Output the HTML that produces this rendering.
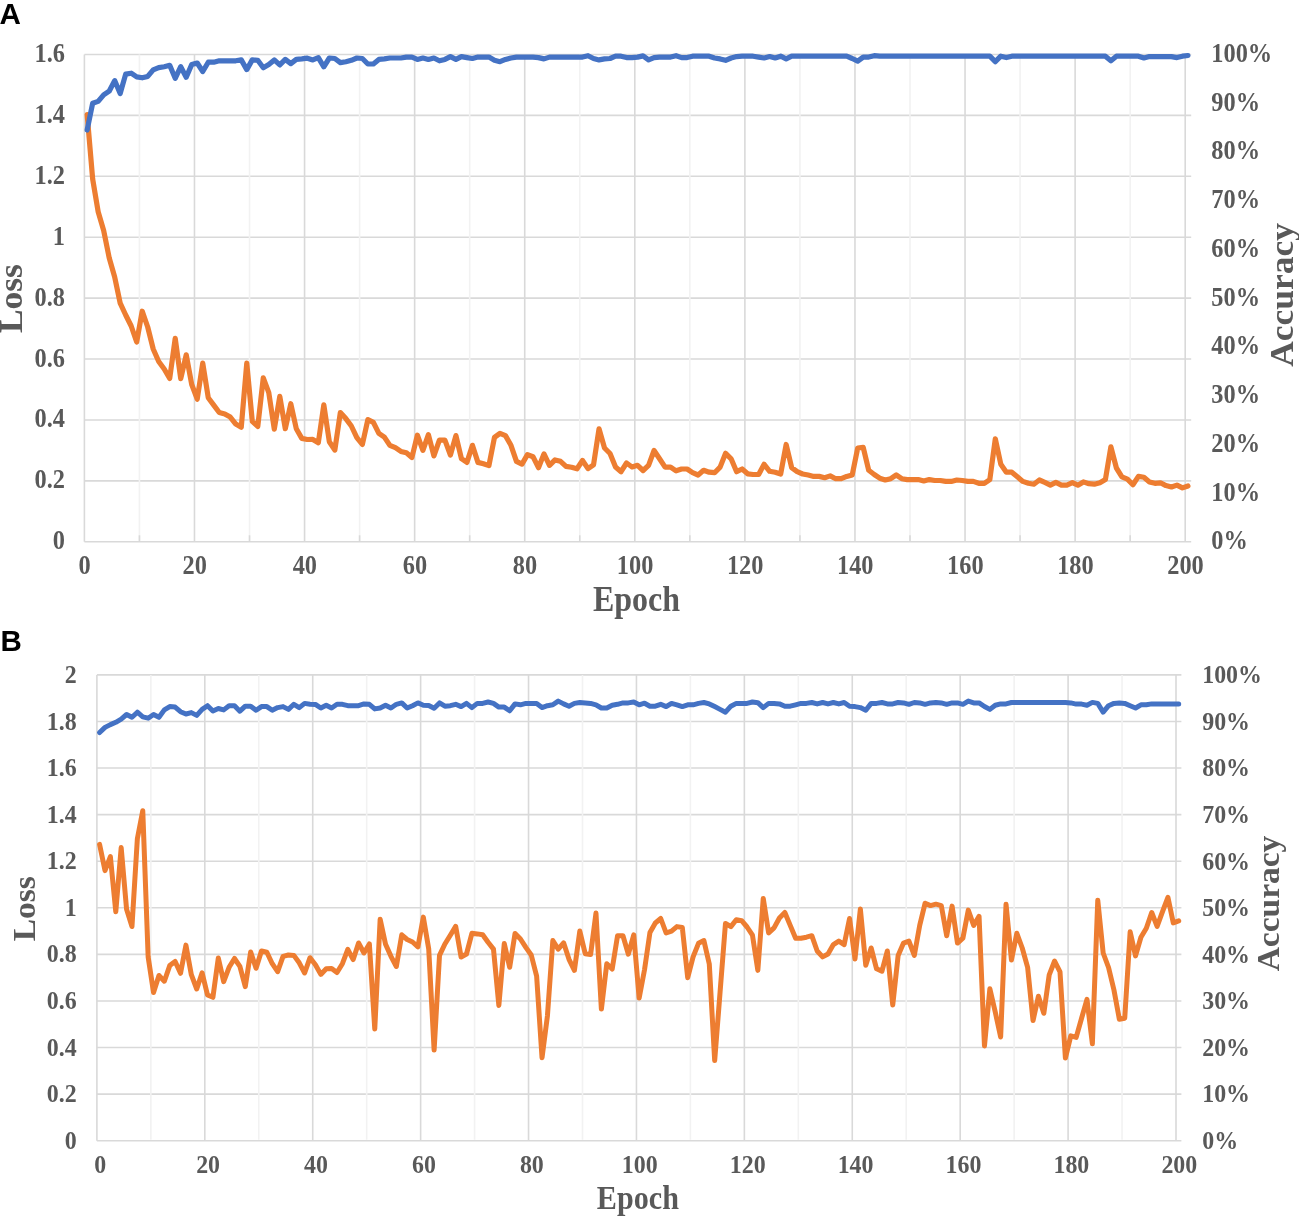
<!DOCTYPE html>
<html><head><meta charset="utf-8"><title>Training curves</title>
<style>
html,body{margin:0;padding:0;background:#fff;}
body{width:1299px;height:1217px;overflow:hidden;position:relative;}
svg{position:absolute;left:0;top:0;display:block;filter:blur(0.3px);}
.t{font-family:"Liberation Serif",serif;font-weight:bold;fill:#595959;}
.p{font-family:"Liberation Sans",sans-serif;font-weight:bold;fill:#000;}
</style></head>
<body>
<svg width="1299" height="1217" viewBox="0 0 1299 1217">
<rect width="1299" height="1217" fill="#fff"/>
<text transform="translate(-0.6,24.1) scale(1,1)" class="p" font-size="29.6">A</text>
<text transform="translate(0.6,651) scale(1.0,1)" class="p" font-size="29.5">B</text>
<line x1="84.40" y1="54.50" x2="1191.20" y2="54.50" stroke="#d9d9d9" stroke-width="1.6"/>
<line x1="84.40" y1="115.41" x2="1191.20" y2="115.41" stroke="#d9d9d9" stroke-width="1.6"/>
<line x1="84.40" y1="176.32" x2="1191.20" y2="176.32" stroke="#d9d9d9" stroke-width="1.6"/>
<line x1="84.40" y1="237.24" x2="1191.20" y2="237.24" stroke="#d9d9d9" stroke-width="1.6"/>
<line x1="84.40" y1="298.15" x2="1191.20" y2="298.15" stroke="#d9d9d9" stroke-width="1.6"/>
<line x1="84.40" y1="359.06" x2="1191.20" y2="359.06" stroke="#d9d9d9" stroke-width="1.6"/>
<line x1="84.40" y1="419.97" x2="1191.20" y2="419.97" stroke="#d9d9d9" stroke-width="1.6"/>
<line x1="84.40" y1="480.89" x2="1191.20" y2="480.89" stroke="#d9d9d9" stroke-width="1.6"/>
<line x1="84.40" y1="541.80" x2="1191.20" y2="541.80" stroke="#d9d9d9" stroke-width="1.6"/>
<line x1="84.40" y1="54.50" x2="84.40" y2="541.80" stroke="#d9d9d9" stroke-width="1.6"/>
<line x1="194.48" y1="54.50" x2="194.48" y2="541.80" stroke="#d9d9d9" stroke-width="1.6"/>
<line x1="304.56" y1="54.50" x2="304.56" y2="541.80" stroke="#d9d9d9" stroke-width="1.6"/>
<line x1="414.64" y1="54.50" x2="414.64" y2="541.80" stroke="#d9d9d9" stroke-width="1.6"/>
<line x1="524.72" y1="54.50" x2="524.72" y2="541.80" stroke="#d9d9d9" stroke-width="1.6"/>
<line x1="634.80" y1="54.50" x2="634.80" y2="541.80" stroke="#d9d9d9" stroke-width="1.6"/>
<line x1="744.88" y1="54.50" x2="744.88" y2="541.80" stroke="#d9d9d9" stroke-width="1.6"/>
<line x1="854.96" y1="54.50" x2="854.96" y2="541.80" stroke="#d9d9d9" stroke-width="1.6"/>
<line x1="965.04" y1="54.50" x2="965.04" y2="541.80" stroke="#d9d9d9" stroke-width="1.6"/>
<line x1="1075.12" y1="54.50" x2="1075.12" y2="541.80" stroke="#d9d9d9" stroke-width="1.6"/>
<line x1="1185.20" y1="54.50" x2="1185.20" y2="541.80" stroke="#d9d9d9" stroke-width="1.6"/>
<line x1="139.44" y1="54.50" x2="139.44" y2="540.80" stroke="#f2f2f2" stroke-width="1.6"/>
<line x1="139.44" y1="535.30" x2="139.44" y2="541.80" stroke="#d9d9d9" stroke-width="1.6"/>
<line x1="249.52" y1="54.50" x2="249.52" y2="540.80" stroke="#f2f2f2" stroke-width="1.6"/>
<line x1="249.52" y1="535.30" x2="249.52" y2="541.80" stroke="#d9d9d9" stroke-width="1.6"/>
<line x1="359.60" y1="54.50" x2="359.60" y2="540.80" stroke="#f2f2f2" stroke-width="1.6"/>
<line x1="359.60" y1="535.30" x2="359.60" y2="541.80" stroke="#d9d9d9" stroke-width="1.6"/>
<line x1="469.68" y1="54.50" x2="469.68" y2="540.80" stroke="#f2f2f2" stroke-width="1.6"/>
<line x1="469.68" y1="535.30" x2="469.68" y2="541.80" stroke="#d9d9d9" stroke-width="1.6"/>
<line x1="579.76" y1="54.50" x2="579.76" y2="540.80" stroke="#f2f2f2" stroke-width="1.6"/>
<line x1="579.76" y1="535.30" x2="579.76" y2="541.80" stroke="#d9d9d9" stroke-width="1.6"/>
<line x1="689.84" y1="54.50" x2="689.84" y2="540.80" stroke="#f2f2f2" stroke-width="1.6"/>
<line x1="689.84" y1="535.30" x2="689.84" y2="541.80" stroke="#d9d9d9" stroke-width="1.6"/>
<line x1="799.92" y1="54.50" x2="799.92" y2="540.80" stroke="#f2f2f2" stroke-width="1.6"/>
<line x1="799.92" y1="535.30" x2="799.92" y2="541.80" stroke="#d9d9d9" stroke-width="1.6"/>
<line x1="910.00" y1="54.50" x2="910.00" y2="540.80" stroke="#f2f2f2" stroke-width="1.6"/>
<line x1="910.00" y1="535.30" x2="910.00" y2="541.80" stroke="#d9d9d9" stroke-width="1.6"/>
<line x1="1020.08" y1="54.50" x2="1020.08" y2="540.80" stroke="#f2f2f2" stroke-width="1.6"/>
<line x1="1020.08" y1="535.30" x2="1020.08" y2="541.80" stroke="#d9d9d9" stroke-width="1.6"/>
<line x1="1130.16" y1="54.50" x2="1130.16" y2="540.80" stroke="#f2f2f2" stroke-width="1.6"/>
<line x1="1130.16" y1="535.30" x2="1130.16" y2="541.80" stroke="#d9d9d9" stroke-width="1.6"/>
<polyline points="87.15,114.50 92.66,179.00 98.16,211.70 103.66,230.50 109.17,257.70 114.67,277.00 120.18,303.10 125.68,315.00 131.18,326.00 136.69,342.00 142.19,311.20 147.70,327.00 153.20,349.00 158.70,361.50 164.21,369.00 169.71,378.50 175.22,338.30 180.72,378.60 186.22,354.80 191.73,384.50 197.23,399.20 202.74,363.10 208.24,397.70 213.74,405.10 219.25,412.50 224.75,413.90 230.26,417.10 235.76,424.10 241.26,427.30 246.77,363.10 252.27,421.30 257.78,426.40 263.28,377.90 268.78,392.70 274.29,429.10 279.79,396.40 285.30,428.70 290.80,403.70 296.30,428.70 301.81,438.40 307.31,439.50 312.82,439.40 318.32,442.70 323.82,404.80 329.33,441.70 334.83,450.00 340.34,412.60 345.84,418.60 351.34,426.00 356.85,437.60 362.35,444.50 367.86,419.60 373.36,422.30 378.86,433.40 384.37,437.10 389.87,445.40 395.38,447.70 400.88,451.40 406.38,452.80 411.89,457.50 417.39,435.20 422.90,450.30 428.40,434.60 433.90,455.90 439.41,440.20 444.91,440.20 450.42,455.00 455.92,435.60 461.42,458.70 466.93,462.40 472.43,445.30 477.94,462.40 483.44,463.70 488.94,465.60 494.45,437.40 499.95,433.30 505.46,435.60 510.96,445.30 516.46,461.40 521.97,464.10 527.47,454.60 532.98,456.70 538.48,467.70 543.98,453.90 549.49,465.40 554.99,459.90 560.50,461.30 566.00,466.40 571.50,467.30 577.01,468.80 582.51,460.50 588.02,468.60 593.52,464.90 599.02,428.80 604.53,448.00 610.03,453.50 615.54,467.00 621.04,471.70 626.54,463.00 632.05,467.00 637.55,465.30 643.06,470.50 648.56,465.30 654.06,450.50 659.57,458.80 665.07,467.10 670.58,467.10 676.08,470.80 681.58,469.00 687.09,469.00 692.59,472.70 698.10,475.00 703.60,470.30 709.10,472.20 714.61,472.70 720.11,467.10 725.62,453.30 731.12,458.80 736.62,471.70 742.13,469.00 747.63,473.80 753.14,474.50 758.64,474.50 764.14,464.30 769.65,471.30 775.15,472.20 780.66,474.00 786.16,444.50 791.66,467.60 797.17,471.70 802.67,474.00 808.18,475.00 813.68,476.40 819.18,476.40 824.69,477.70 830.19,475.90 835.70,478.70 841.20,478.70 846.70,476.40 852.21,475.00 857.71,448.00 863.22,447.30 868.72,470.30 874.22,474.50 879.73,478.20 885.23,480.00 890.74,478.70 896.24,475.00 901.74,478.70 907.25,479.60 912.75,479.60 918.26,479.60 923.76,481.00 929.26,479.60 934.77,480.50 940.27,480.50 945.78,481.40 951.28,481.40 956.78,480.00 962.29,480.50 967.79,481.40 973.30,481.40 978.80,483.30 984.30,483.30 989.81,479.60 995.31,438.90 1000.82,464.30 1006.32,472.20 1011.82,472.20 1017.33,476.80 1022.83,481.40 1028.34,483.30 1033.84,484.20 1039.34,480.00 1044.85,482.40 1050.35,485.10 1055.86,482.40 1061.36,485.10 1066.86,485.10 1072.37,482.60 1077.87,485.20 1083.38,481.90 1088.88,483.70 1094.38,484.20 1099.89,482.80 1105.39,479.60 1110.90,446.80 1116.40,468.00 1121.90,476.80 1127.41,479.10 1132.91,484.70 1138.42,476.40 1143.92,477.30 1149.42,481.90 1154.93,483.30 1160.43,482.80 1165.94,485.60 1171.44,487.00 1176.94,485.10 1182.45,487.90 1187.95,486.00" fill="none" stroke="#ed7d31" stroke-width="5.2" stroke-linejoin="round" stroke-linecap="round"/>
<polyline points="87.15,130.00 92.66,103.20 98.16,101.40 103.66,94.90 109.17,91.20 114.67,80.60 120.18,93.50 125.68,74.10 131.18,73.20 136.69,76.90 142.19,77.80 147.70,76.40 153.20,69.90 158.70,67.60 164.21,66.70 169.71,65.30 175.22,78.30 180.72,66.70 186.22,77.30 191.73,64.40 197.23,63.00 202.74,71.50 208.24,62.20 213.74,62.20 219.25,60.80 224.75,60.80 230.26,60.80 235.76,60.80 241.26,59.90 246.77,69.60 252.27,59.90 257.78,60.30 263.28,67.70 268.78,64.50 274.29,59.90 279.79,64.90 285.30,59.40 290.80,63.60 296.30,59.40 301.81,58.90 307.31,58.20 312.82,59.90 318.32,57.60 323.82,66.80 329.33,58.00 334.83,58.50 340.34,62.60 345.84,61.70 351.34,60.30 356.85,58.00 362.35,58.50 367.86,64.00 373.36,64.00 378.86,59.40 384.37,58.90 389.87,58.00 395.38,58.00 400.88,58.00 406.38,57.10 411.89,57.10 417.39,59.40 422.90,58.00 428.40,59.40 433.90,58.00 439.41,60.80 444.91,59.40 450.42,56.60 455.92,59.40 461.42,56.60 466.93,57.60 472.43,58.50 477.94,57.10 483.44,57.10 488.94,57.10 494.45,60.30 499.95,61.70 505.46,59.40 510.96,58.00 516.46,57.10 521.97,57.10 527.47,57.10 532.98,57.10 538.48,57.60 543.98,58.90 549.49,57.10 554.99,57.10 560.50,57.10 566.00,57.10 571.50,57.10 577.01,57.10 582.51,57.10 588.02,55.70 593.52,58.50 599.02,59.90 604.53,58.90 610.03,58.50 615.54,56.20 621.04,56.20 626.54,57.60 632.05,57.60 637.55,57.10 643.06,55.90 648.56,59.90 654.06,57.60 659.57,57.10 665.07,57.10 670.58,57.10 676.08,55.70 681.58,57.60 687.09,57.60 692.59,56.20 698.10,56.20 703.60,56.20 709.10,56.20 714.61,58.00 720.11,58.90 725.62,60.30 731.12,58.00 736.62,56.60 742.13,56.20 747.63,56.20 753.14,56.20 758.64,57.10 764.14,58.00 769.65,56.60 775.15,58.00 780.66,56.20 786.16,58.90 791.66,56.20 797.17,56.20 802.67,56.20 808.18,56.20 813.68,56.20 819.18,56.20 824.69,56.20 830.19,56.20 835.70,56.20 841.20,56.20 846.70,56.20 852.21,58.50 857.71,61.20 863.22,57.10 868.72,57.10 874.22,55.70 879.73,56.20 885.23,56.20 890.74,56.20 896.24,56.20 901.74,56.20 907.25,56.20 912.75,56.20 918.26,56.20 923.76,56.20 929.26,56.20 934.77,56.20 940.27,56.20 945.78,56.20 951.28,56.20 956.78,56.20 962.29,56.20 967.79,56.20 973.30,56.20 978.80,56.20 984.30,56.20 989.81,56.20 995.31,61.70 1000.82,56.20 1006.32,57.60 1011.82,56.20 1017.33,56.20 1022.83,56.20 1028.34,56.20 1033.84,56.20 1039.34,56.20 1044.85,56.20 1050.35,56.20 1055.86,56.20 1061.36,56.20 1066.86,56.20 1072.37,56.20 1077.87,56.20 1083.38,56.20 1088.88,56.20 1094.38,56.20 1099.89,56.20 1105.39,56.20 1110.90,60.80 1116.40,56.20 1121.90,56.20 1127.41,56.20 1132.91,56.20 1138.42,56.20 1143.92,58.00 1149.42,56.60 1154.93,56.60 1160.43,56.60 1165.94,56.60 1171.44,56.60 1176.94,57.60 1182.45,56.20 1187.95,55.50" fill="none" stroke="#4472c4" stroke-width="5.2" stroke-linejoin="round" stroke-linecap="round"/>
<text transform="translate(65.00,61.98) scale(0.92,1)" text-anchor="end" class="t" font-size="26.5">1.6</text>
<text transform="translate(65.00,122.89) scale(0.92,1)" text-anchor="end" class="t" font-size="26.5">1.4</text>
<text transform="translate(65.00,183.80) scale(0.92,1)" text-anchor="end" class="t" font-size="26.5">1.2</text>
<text transform="translate(65.00,244.72) scale(0.92,1)" text-anchor="end" class="t" font-size="26.5">1</text>
<text transform="translate(65.00,305.63) scale(0.92,1)" text-anchor="end" class="t" font-size="26.5">0.8</text>
<text transform="translate(65.00,366.54) scale(0.92,1)" text-anchor="end" class="t" font-size="26.5">0.6</text>
<text transform="translate(65.00,427.45) scale(0.92,1)" text-anchor="end" class="t" font-size="26.5">0.4</text>
<text transform="translate(65.00,488.37) scale(0.92,1)" text-anchor="end" class="t" font-size="26.5">0.2</text>
<text transform="translate(65.00,549.28) scale(0.92,1)" text-anchor="end" class="t" font-size="26.5">0</text>
<text transform="translate(1211.30,61.98) scale(0.92,1)" class="t" font-size="26.5">100%</text>
<text transform="translate(1211.30,110.71) scale(0.92,1)" class="t" font-size="26.5">90%</text>
<text transform="translate(1211.30,159.44) scale(0.92,1)" class="t" font-size="26.5">80%</text>
<text transform="translate(1211.30,208.17) scale(0.92,1)" class="t" font-size="26.5">70%</text>
<text transform="translate(1211.30,256.90) scale(0.92,1)" class="t" font-size="26.5">60%</text>
<text transform="translate(1211.30,305.63) scale(0.92,1)" class="t" font-size="26.5">50%</text>
<text transform="translate(1211.30,354.36) scale(0.92,1)" class="t" font-size="26.5">40%</text>
<text transform="translate(1211.30,403.09) scale(0.92,1)" class="t" font-size="26.5">30%</text>
<text transform="translate(1211.30,451.82) scale(0.92,1)" class="t" font-size="26.5">20%</text>
<text transform="translate(1211.30,500.55) scale(0.92,1)" class="t" font-size="26.5">10%</text>
<text transform="translate(1211.30,549.28) scale(0.92,1)" class="t" font-size="26.5">0%</text>
<text transform="translate(84.70,573.70) scale(0.92,1)" text-anchor="middle" class="t" font-size="26.5">0</text>
<text transform="translate(194.78,573.70) scale(0.92,1)" text-anchor="middle" class="t" font-size="26.5">20</text>
<text transform="translate(304.86,573.70) scale(0.92,1)" text-anchor="middle" class="t" font-size="26.5">40</text>
<text transform="translate(414.94,573.70) scale(0.92,1)" text-anchor="middle" class="t" font-size="26.5">60</text>
<text transform="translate(525.02,573.70) scale(0.92,1)" text-anchor="middle" class="t" font-size="26.5">80</text>
<text transform="translate(635.10,573.70) scale(0.92,1)" text-anchor="middle" class="t" font-size="26.5">100</text>
<text transform="translate(745.18,573.70) scale(0.92,1)" text-anchor="middle" class="t" font-size="26.5">120</text>
<text transform="translate(855.26,573.70) scale(0.92,1)" text-anchor="middle" class="t" font-size="26.5">140</text>
<text transform="translate(965.34,573.70) scale(0.92,1)" text-anchor="middle" class="t" font-size="26.5">160</text>
<text transform="translate(1075.42,573.70) scale(0.92,1)" text-anchor="middle" class="t" font-size="26.5">180</text>
<text transform="translate(1185.50,573.70) scale(0.92,1)" text-anchor="middle" class="t" font-size="26.5">200</text>
<text transform="translate(636.40,611.20) scale(0.9,1)" text-anchor="middle" class="t" font-size="35.5">Epoch</text>
<text transform="translate(21.60,298.60) scale(0.93,1) rotate(-90)" text-anchor="middle" class="t" font-size="35.5">Loss</text>
<text transform="translate(1292.50,294.90) scale(0.93,1) rotate(-90)" text-anchor="middle" class="t" font-size="35.5">Accuracy</text>
<line x1="96.90" y1="674.90" x2="1181.40" y2="674.90" stroke="#d9d9d9" stroke-width="1.6"/>
<line x1="96.90" y1="721.48" x2="1181.40" y2="721.48" stroke="#d9d9d9" stroke-width="1.6"/>
<line x1="96.90" y1="768.06" x2="1181.40" y2="768.06" stroke="#d9d9d9" stroke-width="1.6"/>
<line x1="96.90" y1="814.64" x2="1181.40" y2="814.64" stroke="#d9d9d9" stroke-width="1.6"/>
<line x1="96.90" y1="861.22" x2="1181.40" y2="861.22" stroke="#d9d9d9" stroke-width="1.6"/>
<line x1="96.90" y1="907.80" x2="1181.40" y2="907.80" stroke="#d9d9d9" stroke-width="1.6"/>
<line x1="96.90" y1="954.38" x2="1181.40" y2="954.38" stroke="#d9d9d9" stroke-width="1.6"/>
<line x1="96.90" y1="1000.96" x2="1181.40" y2="1000.96" stroke="#d9d9d9" stroke-width="1.6"/>
<line x1="96.90" y1="1047.54" x2="1181.40" y2="1047.54" stroke="#d9d9d9" stroke-width="1.6"/>
<line x1="96.90" y1="1094.12" x2="1181.40" y2="1094.12" stroke="#d9d9d9" stroke-width="1.6"/>
<line x1="96.90" y1="1140.70" x2="1181.40" y2="1140.70" stroke="#d9d9d9" stroke-width="1.6"/>
<line x1="96.90" y1="674.90" x2="96.90" y2="1140.70" stroke="#d9d9d9" stroke-width="1.6"/>
<line x1="204.81" y1="674.90" x2="204.81" y2="1140.70" stroke="#d9d9d9" stroke-width="1.6"/>
<line x1="312.72" y1="674.90" x2="312.72" y2="1140.70" stroke="#d9d9d9" stroke-width="1.6"/>
<line x1="420.63" y1="674.90" x2="420.63" y2="1140.70" stroke="#d9d9d9" stroke-width="1.6"/>
<line x1="528.54" y1="674.90" x2="528.54" y2="1140.70" stroke="#d9d9d9" stroke-width="1.6"/>
<line x1="636.45" y1="674.90" x2="636.45" y2="1140.70" stroke="#d9d9d9" stroke-width="1.6"/>
<line x1="744.36" y1="674.90" x2="744.36" y2="1140.70" stroke="#d9d9d9" stroke-width="1.6"/>
<line x1="852.27" y1="674.90" x2="852.27" y2="1140.70" stroke="#d9d9d9" stroke-width="1.6"/>
<line x1="960.18" y1="674.90" x2="960.18" y2="1140.70" stroke="#d9d9d9" stroke-width="1.6"/>
<line x1="1068.09" y1="674.90" x2="1068.09" y2="1140.70" stroke="#d9d9d9" stroke-width="1.6"/>
<line x1="1176.00" y1="674.90" x2="1176.00" y2="1140.70" stroke="#d9d9d9" stroke-width="1.6"/>
<line x1="150.86" y1="674.90" x2="150.86" y2="1139.70" stroke="#f2f2f2" stroke-width="1.6"/>
<line x1="258.76" y1="674.90" x2="258.76" y2="1139.70" stroke="#f2f2f2" stroke-width="1.6"/>
<line x1="366.67" y1="674.90" x2="366.67" y2="1139.70" stroke="#f2f2f2" stroke-width="1.6"/>
<line x1="474.59" y1="674.90" x2="474.59" y2="1139.70" stroke="#f2f2f2" stroke-width="1.6"/>
<line x1="582.50" y1="674.90" x2="582.50" y2="1139.70" stroke="#f2f2f2" stroke-width="1.6"/>
<line x1="690.40" y1="674.90" x2="690.40" y2="1139.70" stroke="#f2f2f2" stroke-width="1.6"/>
<line x1="798.31" y1="674.90" x2="798.31" y2="1139.70" stroke="#f2f2f2" stroke-width="1.6"/>
<line x1="906.22" y1="674.90" x2="906.22" y2="1139.70" stroke="#f2f2f2" stroke-width="1.6"/>
<line x1="1014.13" y1="674.90" x2="1014.13" y2="1139.70" stroke="#f2f2f2" stroke-width="1.6"/>
<line x1="1122.05" y1="674.90" x2="1122.05" y2="1139.70" stroke="#f2f2f2" stroke-width="1.6"/>
<polyline points="99.60,844.40 104.99,870.60 110.39,856.70 115.78,911.70 121.18,847.60 126.58,909.20 131.97,926.50 137.37,838.60 142.76,810.70 148.16,957.00 153.55,992.50 158.95,975.50 164.34,981.20 169.74,965.60 175.13,961.50 180.53,973.30 185.93,945.10 191.32,974.70 196.72,989.00 202.11,972.80 207.51,995.00 212.90,997.30 218.30,958.00 223.69,981.60 229.09,967.30 234.49,958.50 239.88,966.40 245.28,986.70 250.67,952.00 256.07,968.30 261.46,951.00 266.86,952.20 272.25,963.70 277.65,971.60 283.04,956.40 288.44,955.00 293.84,955.40 299.23,962.80 304.63,973.00 310.02,957.70 315.42,964.70 320.81,974.40 326.21,968.80 331.60,968.40 337.00,972.50 342.40,963.70 347.79,949.40 353.19,959.60 358.58,943.00 363.98,953.00 369.37,944.00 374.77,1029.00 380.16,919.20 385.56,944.30 390.95,956.30 396.35,966.50 401.75,934.80 407.14,939.50 412.54,942.00 417.93,946.80 423.33,917.10 428.72,949.00 434.12,1050.00 439.51,955.40 444.91,944.00 450.31,935.30 455.70,926.40 461.10,957.00 466.49,954.00 471.89,933.30 477.28,933.90 482.68,934.70 488.07,942.30 493.47,949.10 498.86,1005.40 504.26,943.60 509.66,967.30 515.05,933.40 520.45,939.00 525.84,947.40 531.24,955.00 536.63,976.20 542.03,1057.80 547.42,1016.00 552.82,940.60 558.22,949.10 563.61,942.80 569.01,959.30 574.40,970.30 579.80,931.10 585.19,953.70 590.59,954.60 595.98,913.10 601.38,1009.10 606.77,963.70 612.17,969.10 617.57,935.70 622.96,935.70 628.36,954.20 633.75,934.80 639.15,998.10 644.54,969.60 649.94,932.50 655.33,923.00 660.73,918.50 666.13,933.00 671.52,931.10 676.92,926.60 682.31,927.50 687.71,977.70 693.10,956.90 698.50,943.30 703.89,940.60 709.29,964.00 714.68,1060.60 720.08,992.00 725.48,923.40 730.87,926.60 736.27,919.80 741.66,920.70 747.06,927.00 752.45,935.20 757.85,970.40 763.24,898.50 768.64,932.90 774.04,927.90 779.43,918.00 784.83,912.50 790.22,925.40 795.62,938.20 801.01,938.20 806.41,937.20 811.80,935.70 817.20,951.00 822.59,956.90 827.99,954.00 833.39,944.60 838.78,941.10 844.18,944.60 849.57,918.50 854.97,958.90 860.36,909.10 865.76,965.30 871.15,948.00 876.55,968.80 881.95,971.20 887.34,951.00 892.74,1005.00 898.13,955.40 903.53,943.10 908.92,941.10 914.32,955.40 919.71,925.40 925.11,903.20 930.50,905.60 935.90,904.20 941.30,905.60 946.69,935.70 952.09,906.10 957.48,943.10 962.88,938.20 968.27,910.10 973.67,925.40 979.06,916.30 984.46,1046.00 989.86,988.80 995.25,1012.00 1000.65,1037.00 1006.04,904.20 1011.44,959.90 1016.83,933.30 1022.23,948.00 1027.62,967.30 1033.02,1020.60 1038.41,996.20 1043.81,1013.30 1049.21,974.80 1054.60,961.00 1060.00,971.80 1065.39,1058.10 1070.79,1035.90 1076.18,1037.40 1081.58,1018.20 1086.97,999.40 1092.37,1043.80 1097.77,900.20 1103.16,953.00 1108.56,967.50 1113.95,990.00 1119.35,1019.20 1124.74,1018.20 1130.14,931.80 1135.53,955.90 1140.93,937.20 1146.32,928.30 1151.72,912.50 1157.12,926.40 1162.51,911.60 1167.91,897.30 1173.30,922.90 1178.70,920.90" fill="none" stroke="#ed7d31" stroke-width="5.0" stroke-linejoin="round" stroke-linecap="round"/>
<polyline points="99.60,732.50 104.99,727.40 110.39,724.60 115.78,722.30 121.18,719.10 126.58,714.50 131.97,717.30 137.37,712.20 142.76,716.80 148.16,718.20 153.55,714.50 158.95,717.30 164.34,709.90 169.74,706.60 175.13,707.10 180.53,711.70 185.93,714.00 191.32,712.60 196.72,715.40 202.11,709.40 207.51,705.70 212.90,711.00 218.30,708.50 223.69,709.90 229.09,705.70 234.49,705.70 239.88,711.20 245.28,706.20 250.67,706.20 256.07,710.30 261.46,706.60 266.86,706.60 272.25,710.30 277.65,707.60 283.04,706.60 288.44,709.40 293.84,704.30 299.23,707.60 304.63,703.40 310.02,704.30 315.42,704.40 320.81,708.00 326.21,705.20 331.60,708.00 337.00,704.30 342.40,704.30 347.79,705.70 353.19,705.70 358.58,705.70 363.98,703.90 369.37,704.30 374.77,708.90 380.16,708.00 385.56,705.20 390.95,708.00 396.35,704.30 401.75,702.90 407.14,708.00 412.54,705.70 417.93,702.90 423.33,705.20 428.72,705.50 434.12,708.30 439.51,702.90 444.91,706.20 450.31,705.70 455.70,704.30 461.10,706.60 466.49,703.40 471.89,707.60 477.28,703.40 482.68,703.40 488.07,702.00 493.47,703.40 498.86,707.10 504.26,707.10 509.66,710.80 515.05,703.90 520.45,704.80 525.84,703.40 531.24,703.40 536.63,703.60 542.03,707.60 547.42,705.70 552.82,704.80 558.22,701.10 563.61,703.90 569.01,706.20 574.40,703.40 579.80,702.50 585.19,702.90 590.59,703.40 595.98,704.80 601.38,708.00 606.77,708.00 612.17,705.20 617.57,704.30 622.96,702.90 628.36,702.90 633.75,702.00 639.15,704.80 644.54,703.20 649.94,706.20 655.33,706.20 660.73,704.30 666.13,706.60 671.52,703.40 676.92,704.80 682.31,706.60 687.71,704.80 693.10,704.80 698.50,703.40 703.89,702.50 709.29,703.90 714.68,706.60 720.08,709.40 725.48,712.20 730.87,706.20 736.27,703.40 741.66,703.40 747.06,703.40 752.45,702.00 757.85,702.70 763.24,707.60 768.64,703.40 774.04,703.40 779.43,703.90 784.83,706.20 790.22,706.20 795.62,704.80 801.01,703.40 806.41,703.40 811.80,702.50 817.20,703.90 822.59,702.50 827.99,703.90 833.39,702.50 838.78,703.90 844.18,702.50 849.57,706.20 854.97,706.60 860.36,707.60 865.76,710.30 871.15,703.40 876.55,703.40 881.95,702.50 887.34,703.90 892.74,703.90 898.13,702.50 903.53,702.90 908.92,704.30 914.32,702.50 919.71,702.90 925.11,704.30 930.50,702.90 935.90,702.50 941.30,702.90 946.69,704.30 952.09,702.90 957.48,702.90 962.88,704.30 968.27,701.10 973.67,702.90 979.06,702.90 984.46,706.50 989.86,709.40 995.25,705.20 1000.65,703.90 1006.04,703.90 1011.44,702.50 1016.83,702.50 1022.23,702.50 1027.62,702.50 1033.02,702.50 1038.41,702.50 1043.81,702.50 1049.21,702.50 1054.60,702.50 1060.00,702.50 1065.39,702.50 1070.79,702.90 1076.18,704.10 1081.58,704.10 1086.97,705.20 1092.37,702.40 1097.77,703.40 1103.16,712.20 1108.56,705.70 1113.95,703.40 1119.35,702.90 1124.74,703.40 1130.14,705.70 1135.53,708.00 1140.93,704.80 1146.32,704.80 1151.72,703.90 1157.12,703.90 1162.51,703.90 1167.91,703.90 1173.30,703.90 1178.70,703.90" fill="none" stroke="#4472c4" stroke-width="5.0" stroke-linejoin="round" stroke-linecap="round"/>
<text transform="translate(76.60,682.91) scale(0.92,1)" text-anchor="end" class="t" font-size="26.0">2</text>
<text transform="translate(76.60,729.50) scale(0.92,1)" text-anchor="end" class="t" font-size="26.0">1.8</text>
<text transform="translate(76.60,776.07) scale(0.92,1)" text-anchor="end" class="t" font-size="26.0">1.6</text>
<text transform="translate(76.60,822.65) scale(0.92,1)" text-anchor="end" class="t" font-size="26.0">1.4</text>
<text transform="translate(76.60,869.24) scale(0.92,1)" text-anchor="end" class="t" font-size="26.0">1.2</text>
<text transform="translate(76.60,915.81) scale(0.92,1)" text-anchor="end" class="t" font-size="26.0">1</text>
<text transform="translate(76.60,962.39) scale(0.92,1)" text-anchor="end" class="t" font-size="26.0">0.8</text>
<text transform="translate(76.60,1008.98) scale(0.92,1)" text-anchor="end" class="t" font-size="26.0">0.6</text>
<text transform="translate(76.60,1055.56) scale(0.92,1)" text-anchor="end" class="t" font-size="26.0">0.4</text>
<text transform="translate(76.60,1102.13) scale(0.92,1)" text-anchor="end" class="t" font-size="26.0">0.2</text>
<text transform="translate(76.60,1148.72) scale(0.92,1)" text-anchor="end" class="t" font-size="26.0">0</text>
<text transform="translate(1202.20,683.21) scale(0.92,1)" class="t" font-size="26.0">100%</text>
<text transform="translate(1202.20,729.79) scale(0.92,1)" class="t" font-size="26.0">90%</text>
<text transform="translate(1202.20,776.37) scale(0.92,1)" class="t" font-size="26.0">80%</text>
<text transform="translate(1202.20,822.95) scale(0.92,1)" class="t" font-size="26.0">70%</text>
<text transform="translate(1202.20,869.53) scale(0.92,1)" class="t" font-size="26.0">60%</text>
<text transform="translate(1202.20,916.11) scale(0.92,1)" class="t" font-size="26.0">50%</text>
<text transform="translate(1202.20,962.69) scale(0.92,1)" class="t" font-size="26.0">40%</text>
<text transform="translate(1202.20,1009.27) scale(0.92,1)" class="t" font-size="26.0">30%</text>
<text transform="translate(1202.20,1055.86) scale(0.92,1)" class="t" font-size="26.0">20%</text>
<text transform="translate(1202.20,1102.44) scale(0.92,1)" class="t" font-size="26.0">10%</text>
<text transform="translate(1202.20,1149.02) scale(0.92,1)" class="t" font-size="26.0">0%</text>
<text transform="translate(100.20,1172.90) scale(0.92,1)" text-anchor="middle" class="t" font-size="26.0">0</text>
<text transform="translate(208.11,1172.90) scale(0.92,1)" text-anchor="middle" class="t" font-size="26.0">20</text>
<text transform="translate(316.02,1172.90) scale(0.92,1)" text-anchor="middle" class="t" font-size="26.0">40</text>
<text transform="translate(423.93,1172.90) scale(0.92,1)" text-anchor="middle" class="t" font-size="26.0">60</text>
<text transform="translate(531.84,1172.90) scale(0.92,1)" text-anchor="middle" class="t" font-size="26.0">80</text>
<text transform="translate(639.75,1172.90) scale(0.92,1)" text-anchor="middle" class="t" font-size="26.0">100</text>
<text transform="translate(747.66,1172.90) scale(0.92,1)" text-anchor="middle" class="t" font-size="26.0">120</text>
<text transform="translate(855.57,1172.90) scale(0.92,1)" text-anchor="middle" class="t" font-size="26.0">140</text>
<text transform="translate(963.48,1172.90) scale(0.92,1)" text-anchor="middle" class="t" font-size="26.0">160</text>
<text transform="translate(1071.39,1172.90) scale(0.92,1)" text-anchor="middle" class="t" font-size="26.0">180</text>
<text transform="translate(1179.30,1172.90) scale(0.92,1)" text-anchor="middle" class="t" font-size="26.0">200</text>
<text transform="translate(637.90,1209.10) scale(0.9,1)" text-anchor="middle" class="t" font-size="33.5">Epoch</text>
<text transform="translate(34.60,908.80) scale(0.93,1) rotate(-90)" text-anchor="middle" class="t" font-size="33.5">Loss</text>
<text transform="translate(1279.10,903.50) scale(0.93,1) rotate(-90)" text-anchor="middle" class="t" font-size="33.5">Accuracy</text>
</svg>
</body></html>
